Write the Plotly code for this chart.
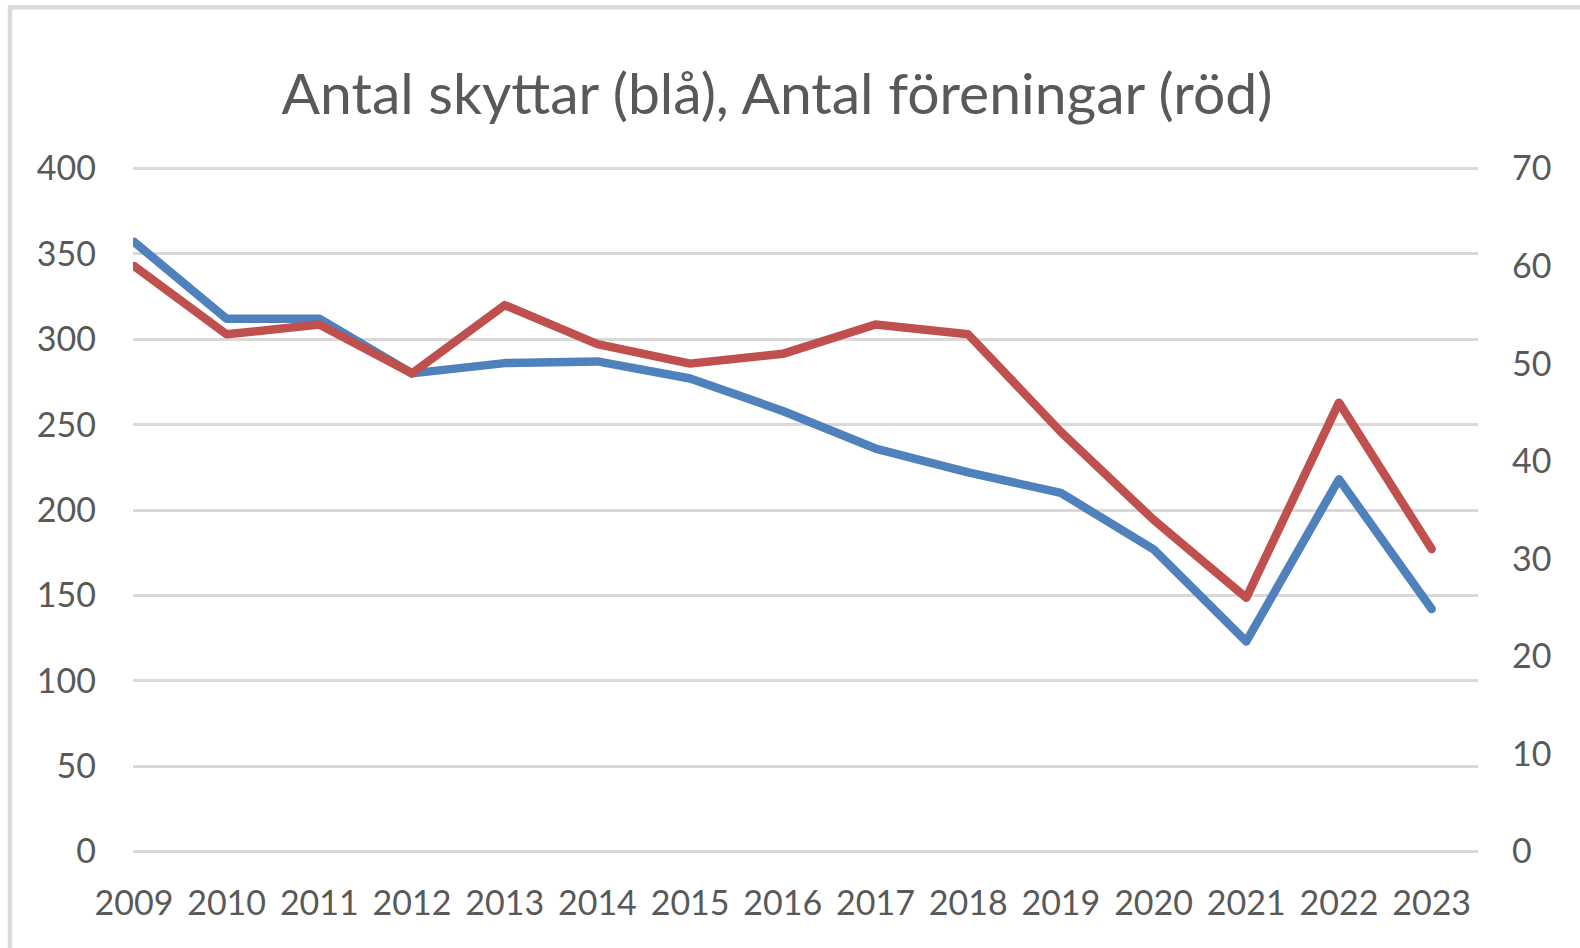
import plotly.graph_objects as go

years = list(range(2009, 2024))
skyttar = [357, 312, 312, 280, 286, 287, 277, 258, 236, 222, 210, 177, 123, 218, 142]
foreningar = [60, 53, 54, 49, 56, 52, 50, 51, 54, 53, 43, 34, 26, 46, 31]
left_ticks = [0, 50, 100, 150, 200, 250, 300, 350, 400]
right_ticks = [0, 10, 20, 30, 40, 50, 60, 70]

W, H = 1580, 948
# pixel positions of the value range (0..400 / 0..70)
top_px, bot_px = 168.3, 851.7
left_px, right_px = 132.5, 1478
ppu = (bot_px - top_px) / 400.0
pad_units = 2.0
ymin, ymax = -pad_units, 400 + pad_units
y2min, y2max = -pad_units * 70 / 400, 70 + pad_units * 70 / 400
mt = top_px - pad_units * ppu
mb = H - (bot_px + pad_units * ppu)
ml, mr = left_px, W - right_px
pw, ph = W - ml - mr, H - mt - mb

FONT = "Lato"
GRAY = "#595959"

fig = go.Figure()
fig.add_trace(go.Scatter(x=years, y=skyttar, mode="lines", name="Antal skyttar",
                         line=dict(color="#4F81BD", width=8.5), yaxis="y"))
fig.add_trace(go.Scatter(x=years, y=foreningar, mode="lines", name="Antal föreningar",
                         line=dict(color="#C0504D", width=8.5), yaxis="y2"))

# outer light border (top and left visible)
bx0 = (9.5 - ml) / pw
by1 = (H - mb - 7) / ph
fig.add_shape(type="rect", xref="paper", yref="paper", x0=bx0, x1=1.3, y0=-0.3, y1=by1,
              line=dict(color="#dadada", width=4.5), layer="below")

fig.update_layout(
    width=W, height=H,
    margin=dict(l=ml, r=mr, t=mt, b=mb, autoexpand=False),
    paper_bgcolor="white", plot_bgcolor="white",
    showlegend=False,
    title=dict(text="Antal skyttar (blå), Antal föreningar (röd)",
               x=777 / W, xref="container", xanchor="center",
               y=1 - 94 / H, yref="container", yanchor="middle",
               font=dict(family=FONT, size=57, color=GRAY)),
    xaxis=dict(range=[2009 - 0.01, 2023.5], tickmode="array", tickvals=years,
               ticktext=[str(y) for y in years], showgrid=False, zeroline=False,
               showline=False, ticks="", ticklabelstandoff=25,
               tickfont=dict(family=FONT, size=34, color=GRAY)),
    yaxis=dict(range=[ymin, ymax], tickmode="array", tickvals=left_ticks,
               showgrid=True, gridcolor="#d9d9d9", gridwidth=2.5, zeroline=False,
               showline=False, ticks="", ticklabelstandoff=36,
               tickfont=dict(family=FONT, size=34, color=GRAY)),
    yaxis2=dict(range=[y2min, y2max], tickmode="array", tickvals=right_ticks,
                overlaying="y", side="right", showgrid=False, zeroline=False,
                showline=False, ticks="", ticklabelstandoff=33,
                tickfont=dict(family=FONT, size=34, color=GRAY)),
)

fig.write_html("out.html", config={"displayModeBar": False},
               post_script="document.body.style.margin='0';document.body.style.padding='0';"
                           "document.querySelectorAll('.scatterlayer path.js-line').forEach("
                           "function(p){p.style.strokeLinecap='round';p.style.strokeLinejoin='round';});")
